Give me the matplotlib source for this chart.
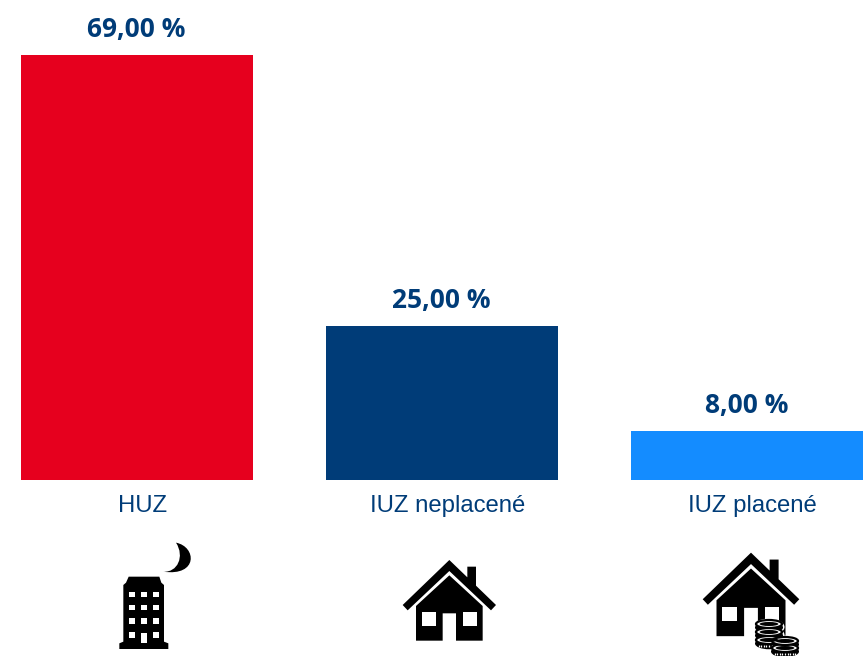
import matplotlib
matplotlib.use("Agg")
import matplotlib.pyplot as plt
from matplotlib.patches import Polygon, Rectangle, PathPatch, Ellipse
from matplotlib.path import Path

categories = ["HUZ", "IUZ neplacené", "IUZ placené"]
values = [69, 25, 8]
value_labels = ["69,00 %", "25,00 %", "8,00 %"]
colors = ["#E6001E", "#003C78", "#148CFF"]
TEXT = "#003C78"

W, H = 864, 656
fig = plt.figure(figsize=(W / 100, H / 100), dpi=100)
ax = fig.add_axes([21 / W, (H - 480) / H, 842 / W, 425 / H])
x = range(len(categories))
ax.bar(x, values, width=232 / 305, color=colors)
ax.set_xlim(-116 / 305, 2 + 116 / 305)
ax.set_ylim(0, 69)
ax.axis("off")
for i, (v, lab, cat) in enumerate(zip(values, value_labels, categories)):
    ax.annotate(lab, (i, v), xytext=(-0.5, 12), textcoords="offset pixels",
                ha="center", va="bottom", color=TEXT, fontsize=19,
                fontweight="bold", family="Open Sans")
    ax.annotate(cat, (i, 0), xytext=(5.5, -37), textcoords="offset pixels",
                ha="center", va="bottom", color=TEXT, fontsize=17.2,
                family="Liberation Sans")

# pictograms, in pixel coordinates of the figure
ov = fig.add_axes([0, 0, 1, 1])
ov.set_xlim(0, W)
ov.set_ylim(H, 0)
ov.axis("off")
ov.patch.set_alpha(0)


def zpts(ox, oy, pts):
    return [(ox + a / 3, oy + b / 3) for a, b in pts]


def zrect(ox, oy, x0, y0, x1, y1, color="white", z=3):
    ov.add_patch(Rectangle((ox + x0 / 3, oy + y0 / 3), (x1 - x0) / 3, (y1 - y0) / 3,
                           fc=color, ec="none", zorder=z))


# building
ox, oy = 90, 530
ov.add_patch(Polygon(zpts(ox, oy, [(88, 357), (88, 340), (100, 335), (100, 165), (108, 158),
                                   (116, 140), (208, 140), (214, 158), (222, 165), (222, 335),
                                   (235, 340), (235, 357)]), fc="black", ec="none"))
for cy in (193, 233, 273, 315):
    for cx in (126, 162, 198):
        if cy == 315 and cx == 162:
            zrect(ox, oy, 154, 308, 170, 340)
        else:
            zrect(ox, oy, cx - 8, cy - 8, cx + 8, cy + 8)
moon = Path(zpts(ox, oy, [(258, 38), (320, 50), (325, 140), (220, 125), (262, 128), (285, 80), (258, 38)]),
            [Path.MOVETO, Path.CURVE4, Path.CURVE4, Path.CURVE4, Path.CURVE4, Path.CURVE4, Path.CURVE4])
ov.add_patch(PathPatch(moon, fc="black", ec="none"))


def house(ox, oy, s=1.0, apex=178, top=45, bottom=287):
    def p(a, b):
        return (ox + (apex + (a - 178) * s) / 3, oy + (top + (b - 45) * s) / 3)
    roof = [(178, 45), (232, 97), (232, 65), (258, 65), (258, 122), (318, 180), (303, 196),
            (178, 78), (53, 196), (38, 180)]
    ov.add_patch(Polygon([p(*q) for q in roof], fc="black", ec="none"))
    body = [(178, 91), (278, 183), (278, 287), (198, 287), (198, 205), (158, 205), (158, 287),
            (78, 287), (78, 183)]
    ov.add_patch(Polygon([p(*q) for q in body], fc="black", ec="none"))
    for a0, a1 in ((95, 138), (218, 260)):
        q0, q1 = p(a0, 202), p(a1, 243)
        ov.add_patch(Rectangle(q0, q1[0] - q0[0], q1[1] - q0[1], fc="white", ec="none", zorder=3))


house(390, 545)
house(690, 540, s=1.035, apex=183, top=38)


def coin_stack(cx, ys, w=26, h=8):
    for y in ys:
        ov.add_patch(Ellipse((cx, y + 3), w + 5, h + 9, fc="white", ec="none", zorder=4))
    for y in ys:
        ov.add_patch(Ellipse((cx, y + 3.5), w + 2, h + 3.5, fc="black", ec="none", zorder=5))
        for k in range(-4, 5):
            dx = k * w / 10
            ov.plot([cx + dx, cx + dx], [y + 4.5, y + 6.5], color="white", lw=0.9, zorder=6,
                    solid_capstyle="butt")
        ov.add_patch(Ellipse((cx, y), w, h, fc="white", ec="black", lw=1.6, zorder=7))
        ov.add_patch(Ellipse((cx, y), w * 0.72, h * 0.5, fc="black", ec="none", zorder=8))


coin_stack(769, [640, 632, 624])
coin_stack(785, [648, 641])
fig.savefig("out.png", dpi=100, facecolor="white")
